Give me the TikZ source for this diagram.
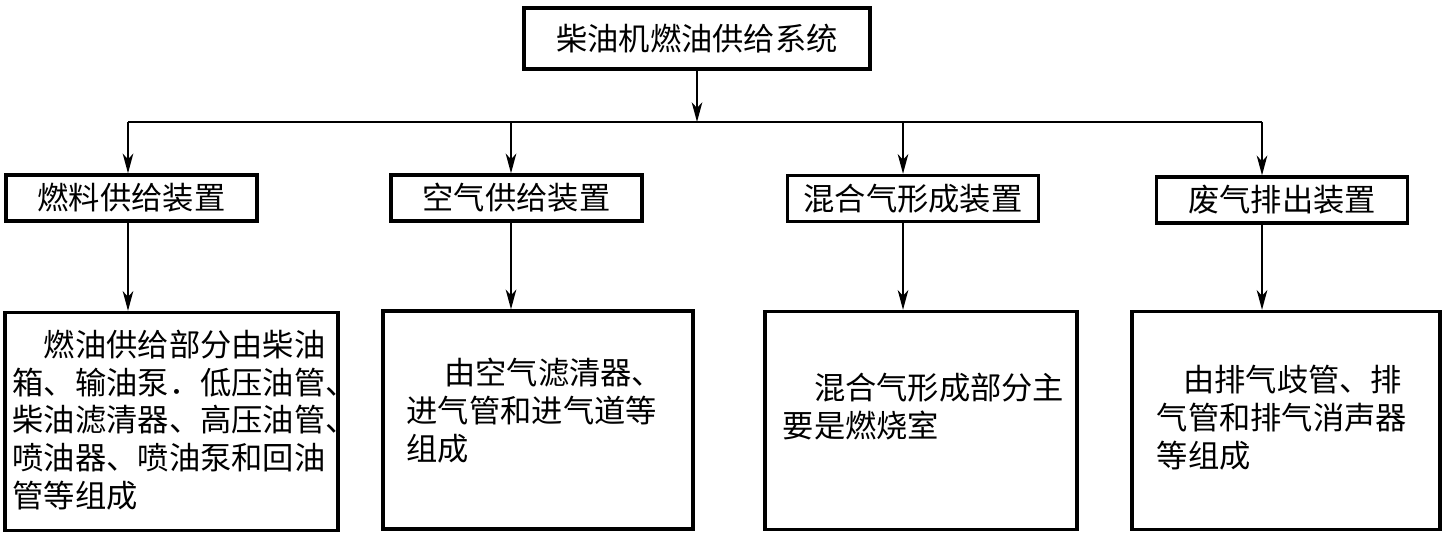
\documentclass[tikz,border=0pt]{standalone}
\usepackage{fontspec}
\setmainfont{Noto Sans CJK SC}
\usetikzlibrary{arrows.meta}

\begin{document}
\begin{tikzpicture}[
  x=0.1mm, y=-0.1mm,
  font=\fontsize{8.9}{10.7}\selectfont,
  box/.style={draw, line width=0.95pt, inner sep=0pt},
  unit/.style={box, minimum width=25.1mm, minimum height=4.6mm},
  detail/.style={box, minimum height=21.8mm},
  txt/.style={anchor=base west, inner sep=0pt, align=left},
  link/.style={line width=0.55pt, -{Stealth[length=5.6pt, width=3pt, inset=1.6pt]}},
  ]
\useasboundingbox (0,0) rectangle (1443,534);

% top level
\node[box, line width=1.1pt, minimum width=34.6mm, minimum height=6.1mm]
  (sys) at (697,38.5) {柴油机燃油供给系统};

% second row
\node[unit] (u1) at (131.5,198) {燃料供给装置};
\node[unit] (u2) at (516.5,198) {空气供给装置};
\node[unit] (u3) at (913,198.5) {混合气形成装置};
\node[unit] (u4) at (1282,200) {废气排出装置};

% detail boxes
\node[detail, minimum width=33.3mm] (d1) at (171.5,421.5) {};
\node[detail, minimum width=31.0mm] (d2) at (538,420) {};
\node[detail, minimum width=31.2mm] (d3) at (921,420.5) {};
\node[detail, minimum width=30.8mm] (d4) at (1286,420.5) {};

% base anchor sits on the last line
\node[txt] (t1) at (12,507)
  {\hspace*{1em}燃油供给部分由柴油\\箱、输油泵．低压油管、\\柴油滤清器、高压油管、\\喷油器、喷油泵和回油\\管等组成};
\node[txt] (t2) at (406,460)
  {\hspace*{1.2em}由空气滤清器、\\进气管和进气道等\\组成};
\node[txt] (t3) at (782,437)
  {\hspace*{1em}混合气形成部分主\\要是燃烧室};
\node[txt] (t4) at (1156,467)
  {\hspace*{0.85em}由排气歧管、排\\气管和排气消声器\\等组成};

% connectors
\coordinate (c1) at (128,122);
\coordinate (c2) at (511,122);
\coordinate (c3) at (903,122);
\coordinate (c4) at (1262,122);

\draw[link] (sys.south) -- (sys.south |- c1);
\draw[line width=0.55pt] (c1) -- (c4);
\foreach \i in {1,...,4} {
  \draw[link] (c\i) -- (c\i |- u\i.north);
  \draw[link] (c\i |- u\i.south) -- (c\i |- d\i.north);
}
\end{tikzpicture}
\end{document}
